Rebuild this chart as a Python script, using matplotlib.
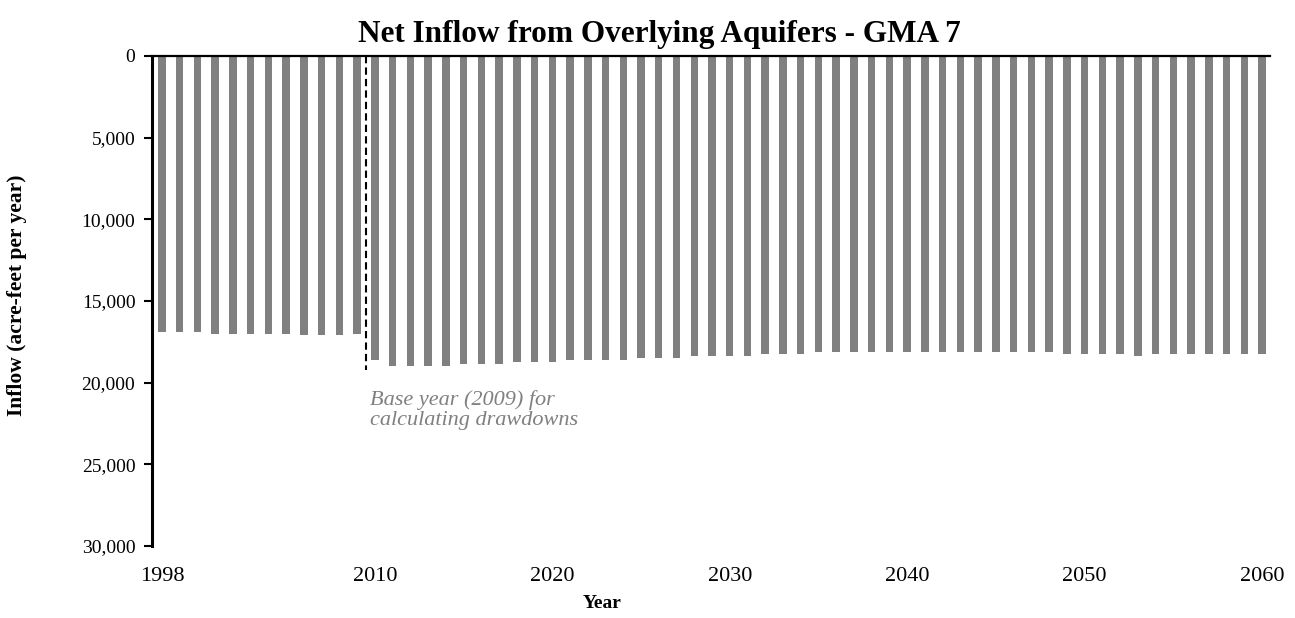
import matplotlib.pyplot as plt
from matplotlib.ticker import FuncFormatter

plt.rcParams['font.family'] = ['Liberation Serif', 'DejaVu Serif']

years = list(range(1998, 2061))
inflow = [
    16900, 16900, 16900, 17000, 17000, 17000, 17000, 17000, 17100, 17100, 17100, 17000,  # 1998-2009
    18600, 18980, 18980, 18980, 18980, 18860, 18860, 18860, 18730, 18730,  # 2010-2019
    18730, 18610, 18610, 18610, 18610, 18490, 18490, 18490, 18370, 18370,  # 2020-2029
    18370, 18370, 18240, 18240, 18240, 18120, 18120, 18120, 18120, 18120,  # 2030-2039
    18120, 18120, 18120, 18120, 18120, 18120, 18120, 18120, 18120, 18240,  # 2040-2049
    18240, 18240, 18240, 18370, 18240, 18240, 18240, 18240, 18240, 18240,  # 2050-2059
    18240,  # 2060
]
xtick_years = [1998, 2010, 2020, 2030, 2040, 2050, 2060]
base_year_line = 2009.5
base_line_depth = 19230

fig = plt.figure(figsize=(12.95, 6.18), dpi=100)
ax = fig.add_axes([0.1174, 0.1165, 0.8633, 0.7929])

ax.bar(years, inflow, width=0.42, color='#808080', zorder=2)

# dashed marker for the base year
ax.plot([base_year_line, base_year_line], [0, base_line_depth],
        color='black', linestyle=(0, (3.5, 2)), linewidth=1.5, zorder=3)
ax.text(2009.75, 20450, 'Base year (2009) for\ncalculating drawdowns',
        fontsize=16, style='italic', color='#808080', va='top', ha='left',
        linespacing=1.05)

ax.set_xlim(1997.44, 2060.45)
ax.set_ylim(30000, 0)
ax.set_yticks(range(0, 30001, 5000))
ax.yaxis.set_major_formatter(FuncFormatter(lambda v, p: f'{int(v):,}'))
ax.set_xticks(xtick_years)

ax.spines['bottom'].set_visible(False)
ax.spines['right'].set_visible(False)
ax.spines['top'].set_linewidth(1.6)
ax.spines['left'].set_linewidth(2.2)
ax.tick_params(axis='x', length=0, labelsize=16, pad=15)
ax.tick_params(axis='y', length=6, width=1.5, labelsize=14, pad=6)

ax.set_title('Net Inflow from Overlying Aquifers - GMA 7', fontsize=22.5,
             fontweight='bold', x=0.454, pad=10)
ax.set_xlabel('Year', fontsize=14, fontweight='bold')
ax.xaxis.set_label_coords(0.4025, -0.1)
ax.set_ylabel('Inflow (acre-feet per year)', fontsize=15.5, fontweight='bold')
ax.yaxis.set_label_coords(-0.112, 0.512)

fig.savefig('out.png', dpi=100)
